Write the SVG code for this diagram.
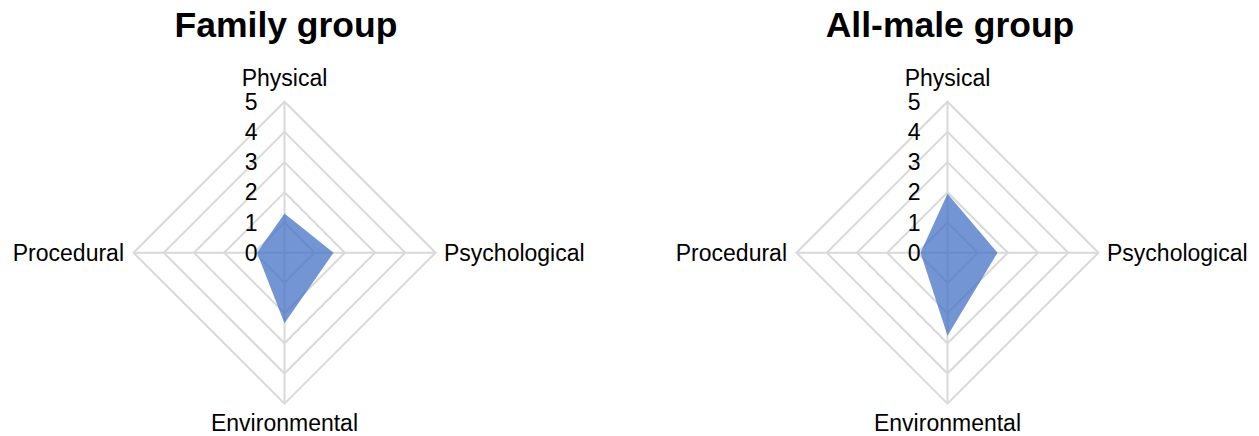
<svg xmlns="http://www.w3.org/2000/svg" xmlns:xlink="http://www.w3.org/1999/xlink" width="1259" height="436" viewBox="0 0 1259 436">
<style>
text{font-family:"Liberation Sans",Arial,sans-serif;fill:#000}
.title{font-size:35.5px;font-weight:bold;text-anchor:middle}
.ax{font-size:23px}
.tick{font-size:23px;text-anchor:end}
.grid{fill:none;stroke:#d9d9d9;stroke-width:2}
.data{fill:#4472C4;fill-opacity:0.75;stroke:none}
</style>
<defs>
<g id="gridshape">
<polygon class="grid" points="0,-30.2 30.2,0 0,30.2 -30.2,0"/>
<polygon class="grid" points="0,-60.4 60.4,0 0,60.4 -60.4,0"/>
<polygon class="grid" points="0,-90.6 90.6,0 0,90.6 -90.6,0"/>
<polygon class="grid" points="0,-120.8 120.8,0 0,120.8 -120.8,0"/>
<polygon class="grid" points="0,-151 151,0 0,151 -151,0"/>
<path class="grid" d="M0,0V-151M0,0H151M0,0V151M0,0H-151"/>
</g>
<g id="labels">
<text class="ax" x="0" y="-166.5" text-anchor="middle">Physical</text>
<text class="ax" x="159.5" y="8" text-anchor="start">Psychological</text>
<text class="ax" x="0" y="178.5" text-anchor="middle">Environmental</text>
<text class="ax" x="-160.5" y="8" text-anchor="end">Procedural</text>
<text class="tick" x="-27" y="8">0</text>
<text class="tick" x="-27" y="-22.2">1</text>
<text class="tick" x="-27" y="-52.4">2</text>
<text class="tick" x="-27" y="-82.6">3</text>
<text class="tick" x="-27" y="-112.8">4</text>
<text class="tick" x="-27" y="-143">5</text>
</g>
</defs>
<g id="chart-family">
<text class="title" x="286" y="37">Family group</text>
<g transform="translate(284.5,252.7)">
<use xlink:href="#gridshape" href="#gridshape"/>
<polygon class="data" points="0,-39.3 49,0 0,70.5 -27.5,0"/>
<use xlink:href="#labels" href="#labels"/>
</g>
</g>
<g id="chart-allmale">
<text class="title" x="950" y="37">All-male group</text>
<g transform="translate(947.5,252.7)">
<use xlink:href="#gridshape" href="#gridshape"/>
<polygon class="data" points="0,-59 50,0 0,83 -27,0"/>
<use xlink:href="#labels" href="#labels"/>
</g>
</g>
<g id="connectors"></g>
</svg>
